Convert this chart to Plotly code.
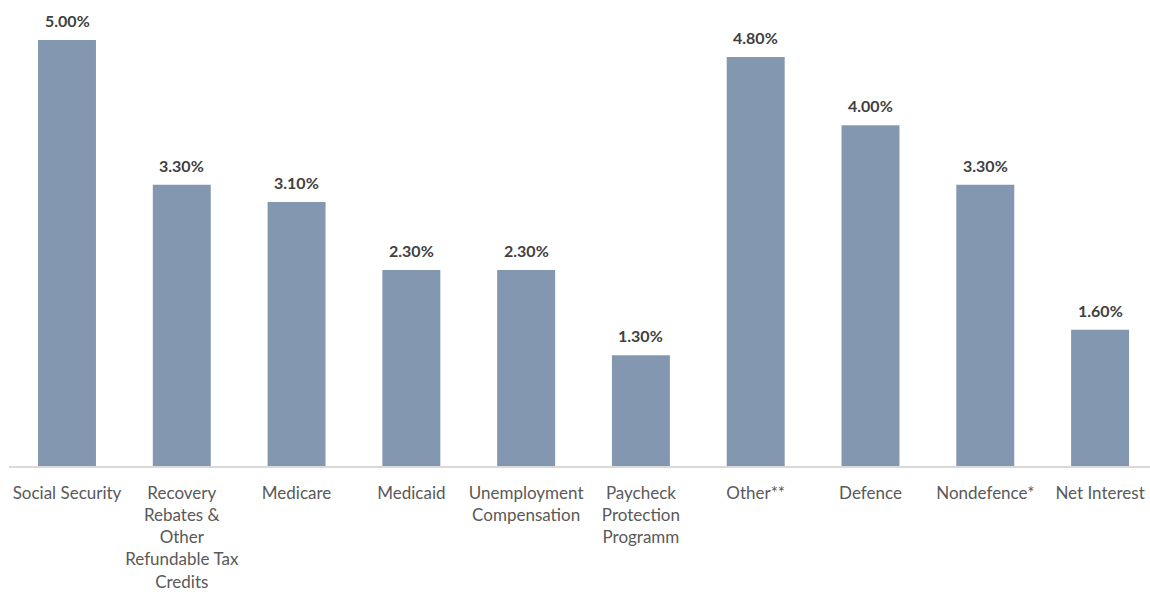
import plotly.graph_objects as go

categories = [
    "Social Security",
    "Recovery<br>Rebates &<br>Other<br>Refundable Tax<br>Credits",
    "Medicare",
    "Medicaid",
    "Unemployment<br>Compensation",
    "Paycheck<br>Protection<br>Programm",
    "Other**",
    "Defence",
    "Nondefence*",
    "Net Interest",
]
values = [5.0, 3.3, 3.1, 2.3, 2.3, 1.3, 4.8, 4.0, 3.3, 1.6]
value_labels = [f"{v:.2f}%" for v in values]

x_pos = list(range(len(categories)))

fig = go.Figure(
    go.Bar(
        x=x_pos,
        y=values,
        width=0.505,
        marker=dict(color="#8497B0", line=dict(width=0)),
        hoverinfo="skip",
    )
)

# value labels sitting above each bar
for xi, v, lab in zip(x_pos, values, value_labels):
    fig.add_annotation(
        x=xi,
        y=v,
        text=lab,
        showarrow=False,
        yanchor="bottom",
        yshift=8,
        font=dict(family="Lato", size=16, color="#404040", weight="bold"),
    )

fig.update_layout(
    width=1150,
    height=592,
    margin=dict(l=9, r=0, t=0, b=122),
    paper_bgcolor="white",
    plot_bgcolor="white",
    showlegend=False,
    xaxis=dict(
        range=[-0.5053, 9.435],
        tickmode="array",
        tickvals=x_pos,
        ticktext=categories,
        tickfont=dict(family="Lato", size=17, color="#595959"),
        showline=True,
        linecolor="#D9D9D9",
        linewidth=1.5,
        showgrid=False,
        zeroline=False,
        ticks="",
        ticklabelstandoff=11,
    ),
    yaxis=dict(
        range=[0, 5.47],
        visible=False,
        showgrid=False,
        zeroline=False,
    ),
)

fig.write_html("out.html")
